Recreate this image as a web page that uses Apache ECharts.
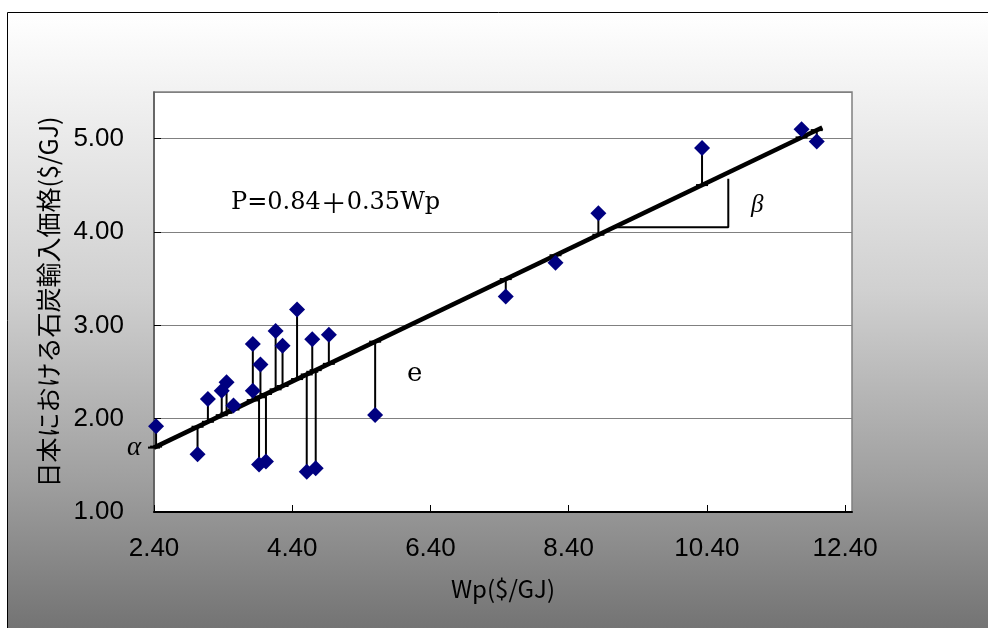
<!DOCTYPE html>
<html>
<head>
<meta charset="utf-8">
<script src="https://cdn.jsdelivr.net/npm/echarts@6/dist/echarts.min.js"></script>
<style>
html, body { margin: 0; padding: 0; background: #fff; }
#chart { width: 988px; height: 628px; }
</style>
</head>
<body>
<div id="chart"></div>
<script>
// coal price in Japan vs Wp
var wpValues = [2.43, 3.03, 3.18, 3.38, 3.45, 3.55, 3.83, 3.83, 3.94, 3.92, 4.02, 4.16, 4.26,
                4.47, 4.61, 4.69, 4.74, 4.93, 5.60, 7.49, 8.21, 8.83, 10.33, 11.77, 11.99];
var priceValues = [1.92, 1.62, 2.21, 2.30, 2.39, 2.14, 2.80, 2.30, 2.58, 1.51, 1.54, 2.94, 2.78,
                   3.17, 1.43, 2.85, 1.47, 2.90, 2.04, 3.31, 3.67, 4.20, 4.90, 5.10, 4.97];

// regression line as drawn (ends)
var lineStart = [2.40, 1.69];
var lineEnd = [12.07, 5.12];

// slope guide (beta bracket)
var slopeGuideX = [9.03, 10.71, 10.71];
var slopeGuideY = [4.05, 4.05, 4.57];

var xMin = 2.4, xMax = 12.5, xStep = 2;
var yMin = 1, yMax = 5.5, yStep = 1;

function fitAt(x) {
  var k = (lineEnd[1] - lineStart[1]) / (lineEnd[0] - lineStart[0]);
  return lineStart[1] + (x - lineStart[0]) * k;
}

var points = wpValues.map(function (w, i) { return [w, priceValues[i]]; });
var guide = slopeGuideX.map(function (x, i) { return [x, slopeGuideY[i]]; });

var chart = echarts.init(document.getElementById('chart'));

var option = {
  backgroundColor: '#fff',
  animation: false,
  grid: {
    left: 154, right: 136, top: 92, bottom: 116,
    show: true,
    backgroundColor: '#fff',
    borderColor: '#808080',
    borderWidth: 1.5
  },
  xAxis: {
    type: 'value',
    min: xMin, max: xMax, interval: xStep,
    name: 'Wp($/GJ)',
    nameLocation: 'middle',
    nameGap: 65,
    nameTextStyle: { color: '#000', fontSize: 24, fontFamily: 'Noto Sans CJK JP' },
    axisLine: { lineStyle: { color: '#000', width: 2 } },
    axisTick: { inside: true, length: 7, lineStyle: { color: '#000', width: 1 } },
    axisLabel: {
      color: '#000', fontSize: 26, fontFamily: 'Liberation Sans', margin: 24,
      showMaxLabel: false,
      formatter: function (v) { return v.toFixed(2); }
    },
    splitLine: { show: false }
  },
  yAxis: {
    type: 'value',
    min: yMin, max: yMax, interval: yStep,
    name: '日本における石炭輸入価格($/GJ)',
    nameLocation: 'middle',
    nameRotate: 90,
    nameGap: 93,
    nameTextStyle: { color: '#000', fontSize: 25, fontFamily: 'Noto Sans CJK JP' },
    axisLine: { show: true, lineStyle: { color: '#555', width: 1.5 } },
    axisTick: { show: true, inside: true, length: 7, lineStyle: { color: '#000', width: 1 } },
    axisLabel: {
      color: '#000', fontSize: 26, fontFamily: 'Liberation Sans', margin: 30,
      showMaxLabel: false,
      formatter: function (v) { return v.toFixed(2); }
    },
    splitLine: { show: true, lineStyle: { color: '#808080', width: 1 } }
  },
  graphic: [
    {
      type: 'rect', z: -10, silent: true,
      shape: { x: 7.5, y: 12.5, width: 1000, height: 620 },
      style: {
        stroke: '#000', lineWidth: 1,
        fill: new echarts.graphic.LinearGradient(0, 0, 0, 1, [
          { offset: 0, color: '#ffffff' },
          { offset: 0.45, color: '#d0d0d0' },
          { offset: 0.75, color: '#a0a0a0' },
          { offset: 1, color: '#727272' }
        ])
      }
    },
    {
      type: 'text', left: 231, top: 190, z: 10,
      style: {
        text: '{s|P=0.84}{p|＋}{s|0.35Wp}',
        fill: '#000',
        rich: {
          s: { fontFamily: 'DejaVu Serif', fontSize: 24, fontWeight: 'normal', fill: '#000' },
          p: { fontFamily: 'Noto Sans CJK JP', fontSize: 26, fill: '#000' }
        }
      }
    },
    {
      type: 'text', left: 407, top: 361, z: 10,
      style: { text: 'e', fill: '#000', font: '26px "DejaVu Serif"' }
    },
    {
      type: 'text', left: 751, top: 193, z: 10,
      style: { text: 'β', fill: '#000', font: 'italic 25px "Liberation Serif"' }
    },
    {
      type: 'text', left: 127, top: 434, z: 10,
      style: { text: 'α', fill: '#000', font: 'italic 27px "Liberation Serif"' }
    }
  ],
  series: [
    {
      name: 'residual',
      type: 'custom',
      z: 2,
      data: points.concat([lineStart]),
      renderItem: function (params, api) {
        var x = api.value(0), y = api.value(1);
        var p = api.coord([x, y]);
        var f = api.coord([x, fitAt(x)]);
        return {
          type: 'group',
          children: [
            { type: 'line', shape: { x1: p[0], y1: p[1], x2: f[0], y2: f[1] },
              style: { stroke: '#000', lineWidth: 2 } },
            { type: 'line', shape: { x1: f[0] - 6, y1: f[1], x2: f[0] + 6, y2: f[1] },
              style: { stroke: '#000', lineWidth: 2 } }
          ]
        };
      }
    },
    {
      name: 'fit',
      type: 'line',
      z: 3,
      data: [lineStart, lineEnd],
      showSymbol: false,
      symbol: 'none',
      lineStyle: { color: '#000', width: 4.5 }
    },
    {
      name: 'beta',
      type: 'line',
      z: 3,
      data: guide,
      symbol: 'none',
      lineStyle: { color: '#000', width: 2 }
    },
    {
      name: 'price',
      type: 'scatter',
      z: 5,
      data: points,
      symbol: 'diamond',
      symbolSize: 16,
      itemStyle: { color: '#000080', opacity: 1 }
    }
  ]
};

chart.setOption(option);
</script>
</body>
</html>
